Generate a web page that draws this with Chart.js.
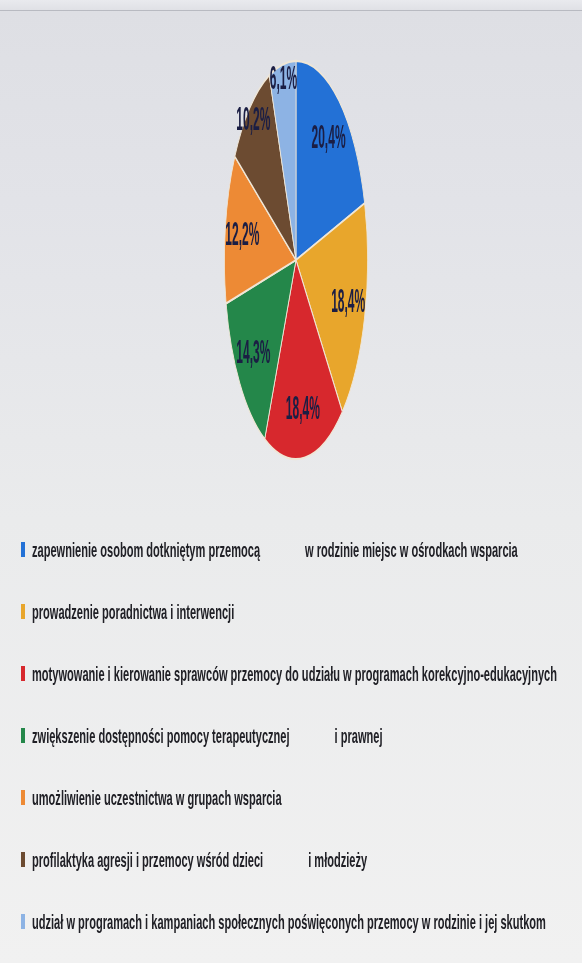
<!DOCTYPE html>
<html>
<head>
<meta charset="utf-8">
<script src="https://cdn.jsdelivr.net/npm/chart.js@4.4.0/dist/chart.umd.min.js"></script>
<style>
  html, body { margin: 0; padding: 0; }
  body {
    width: 582px; height: 963px; overflow: hidden;
    background: linear-gradient(to bottom, #e9eaee 0px, #dedfe4 12px, #e2e3e8 200px, #eaebec 520px, #f1f1f1 963px);
  }
  #wrap { position: relative; width: 582px; height: 963px; }
  .rule { position: absolute; left: 0; right: 0; top: 10px; height: 1px; background: #b8bac1; }
</style>
</head>
<body>
<div id="wrap">
  <div class="rule"></div>
  <canvas id="chart"></canvas>
</div>
<script>
// legend entries; the two-part ones have a wide gap in the scan
const categories = [
  ["zapewnienie osobom dotkniętym przemocą", "w rodzinie miejsc w ośrodkach wsparcia"],
  "prowadzenie poradnictwa i interwencji",
  "motywowanie i kierowanie sprawców przemocy do udziału w programach korekcyjno-edukacyjnych",
  ["zwiększenie dostępności pomocy terapeutycznej", "i prawnej"],
  "umożliwienie uczestnictwa w grupach wsparcia",
  ["profilaktyka agresji i przemocy wśród dzieci", "i młodzieży"],
  "udział w programach i kampaniach społecznych poświęconych przemocy w rodzinie i jej skutkom"
];
const shares = [20.4, 18.4, 18.4, 14.3, 12.2, 10.2, 6.1];
const sliceColors = ["#2371d6", "#e8a62c", "#d7282d", "#24874a", "#ed8a35", "#6c4b31", "#8db3e4"];

const shareLabels = shares.map(v => v.toFixed(1).replace(".", ",") + "%");

const STRETCH = 2.78;        // the scanned pie is squashed into a tall ellipse
const LEGEND_TOP = 557;
const LEGEND_STEP = 62;
const LEGEND_WIDTH = 525;
const LEGEND_GAP = 45;

const ellipsePie = {
  id: "ellipsePie",
  beforeDatasetsDraw(chart) {
    const arc = chart.getDatasetMeta(0).data[0];
    const ctx = chart.ctx;
    ctx.save();
    ctx.translate(arc.x, arc.y);
    ctx.scale(1, STRETCH);
    ctx.translate(-arc.x, -arc.y);
  },
  afterDatasetsDraw(chart) {
    const ctx = chart.ctx;
    ctx.font = 'bold 12px "Liberation Sans Narrow", "Liberation Sans", Arial, sans-serif';
    ctx.fillStyle = "#1b1e44";
    ctx.textAlign = "center";
    ctx.textBaseline = "middle";
    chart.getDatasetMeta(0).data.forEach((arc, i) => {
      const mid = (arc.startAngle + arc.endAngle) / 2;
      const part = (arc.endAngle - arc.startAngle) / (2 * Math.PI);
      const r = arc.outerRadius * (part < 0.11 ? 0.92 : 0.76);
      ctx.fillText(shareLabels[i], arc.x + Math.cos(mid) * r, arc.y + Math.sin(mid) * r);
    });
    ctx.restore();
  }
};

const condensedLegend = {
  id: "condensedLegend",
  afterDraw(chart) {
    const ctx = chart.ctx;
    ctx.save();
    ctx.font = 'bold 21px "Liberation Sans", Arial, sans-serif';
    ctx.textBaseline = "alphabetic";
    const labels = chart.data.labels.map(l => [].concat(l));
    const widest = Math.max(...labels.map(l => ctx.measureText(l.join(" ")).width));
    const sx = LEGEND_WIDTH / widest;
    labels.forEach((parts, i) => {
      const y = LEGEND_TOP + i * LEGEND_STEP;
      ctx.fillStyle = sliceColors[i];
      ctx.fillRect(21, y - 15, 4, 15);
      ctx.save();
      ctx.translate(32, y);
      ctx.scale(sx, 1);
      ctx.fillStyle = "#202026";
      let x = 0;
      parts.forEach(p => {
        ctx.fillText(p, x, 0);
        x += ctx.measureText(p).width + LEGEND_GAP / sx;
      });
      ctx.restore();
    });
    ctx.restore();
  }
};

new Chart(document.getElementById("chart"), {
  type: "pie",
  data: {
    labels: categories,
    datasets: [{
      data: shares,
      backgroundColor: sliceColors,
      borderColor: "#efe6d6",
      borderWidth: 0.8
    }]
  },
  options: {
    responsive: true,
    maintainAspectRatio: false,
    animation: false,
    events: [],
    layout: { padding: { left: 224, right: 214, top: 188, bottom: 631 } },
    plugins: {
      legend: { display: false },
      tooltip: { enabled: false }
    }
  },
  plugins: [ellipsePie, condensedLegend]
});
</script>
</body>
</html>
